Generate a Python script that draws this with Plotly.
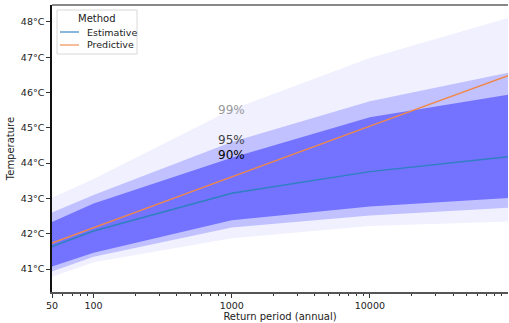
import math
import plotly.graph_objects as go

# ---- data ----
return_period = [50, 100, 1000, 10000, 100000]
estimative = [41.64, 42.08, 43.15, 43.76, 44.18]
predictive = [41.74, 42.17, 43.61, 45.05, 46.48]

ci90_lower = [41.07, 41.46, 42.38, 42.77, 43.01]
ci90_upper = [42.33, 42.86, 44.15, 45.30, 45.94]
ci95_lower = [40.93, 41.35, 42.18, 42.52, 42.74]
ci95_upper = [42.60, 43.10, 44.60, 45.75, 46.56]
ci99_lower = [40.78, 41.19, 41.87, 42.22, 42.35]
ci99_upper = [43.02, 43.55, 45.52, 46.98, 48.11]

y_ticks = [41, 42, 43, 44, 45, 46, 47, 48]
y_ticklabels = [f"{v}°C" for v in y_ticks]
x_ticks = [50, 100, 1000, 10000]
x_ticklabels = ["50", "100", "1000", "10000"]
x_minor = [60, 70, 80, 90, 200, 300, 400, 500, 600, 700, 800, 900,
           2000, 3000, 4000, 5000, 6000, 7000, 8000, 9000,
           20000, 30000, 40000, 50000, 60000, 70000, 80000, 90000]

band_labels = [("99%", 45.50, "#999999"), ("95%", 44.66, "#444444"), ("90%", 44.24, "#000000")]
label_x = 1000

legend_title = "Method"
legend_names = ["Estimative", "Predictive"]
legend_colors = ["rgba(47,127,193,0.75)", "rgba(240,136,74,0.75)"]

FONT = "DejaVu Sans"
W, H = 509, 323
ML, MR, MT, MB = 52, 1, 5, 31
PW, PH = W - ML - MR, H - MT - MB


def px(xp):
    return (xp - ML) / PW


def py(yp):
    return 1 - (yp - MT) / PH


fig = go.Figure()

bands = [
    (ci99_lower, ci99_upper, "rgb(240,240,255)"),
    (ci95_lower, ci95_upper, "rgb(193,193,255)"),
    (ci90_lower, ci90_upper, "rgb(115,115,255)"),
]
for lo, hi, col in bands:
    fig.add_trace(go.Scatter(
        x=return_period + return_period[::-1],
        y=hi + lo[::-1],
        fill="toself", fillcolor=col, mode="lines",
        line=dict(width=0, color=col), showlegend=False, hoverinfo="skip",
    ))

fig.add_trace(go.Scatter(x=return_period, y=estimative, mode="lines", name="Estimative",
                         line=dict(color="#2f7fc1", width=1.5), showlegend=False))
fig.add_trace(go.Scatter(x=return_period, y=predictive, mode="lines", name="Predictive",
                         line=dict(color="#f0884a", width=1.5), showlegend=False))

for txt, yv, col in band_labels:
    fig.add_annotation(x=math.log10(label_x), y=yv, xref="x", yref="y", text=txt, showarrow=False,
                       font=dict(family=FONT, size=12, color=col), xanchor="center", yanchor="middle")

# top frame line
fig.add_shape(type="line", xref="paper", yref="paper", x0=0, x1=1, y0=1, y1=1,
              line=dict(color="#888888", width=2))

# legend box (drawn manually, matplotlib style)
fig.add_shape(type="rect", xref="paper", yref="paper",
              x0=px(57), x1=px(137), y0=py(54), y1=py(10),
              line=dict(color="#d8d8d8", width=1), fillcolor="rgba(255,255,255,0.85)", layer="above")
fig.add_annotation(x=px(97), y=py(18.5), xref="paper", yref="paper", text=legend_title,
                   showarrow=False, font=dict(family=FONT, size=10, color="#222222"),
                   xanchor="center", yanchor="middle")
for i, (nm, col) in enumerate(zip(legend_names, legend_colors)):
    yy = 32 + i * 13
    fig.add_shape(type="line", xref="paper", yref="paper", x0=px(60), x1=px(79),
                  y0=py(yy), y1=py(yy), line=dict(color=col, width=1.5), layer="above")
    fig.add_annotation(x=px(85), y=py(yy), xref="paper", yref="paper", text=nm,
                       showarrow=False, font=dict(family=FONT, size=9.5, color="#222222"),
                       xanchor="left", yanchor="middle")

fig.update_layout(
    width=W, height=H,
    margin=dict(l=ML, r=MR, t=MT, b=MB, autoexpand=False),
    paper_bgcolor="white", plot_bgcolor="white",
    font=dict(family=FONT, size=9, color="#222222"),
    showlegend=False,
    xaxis=dict(
        type="log", range=[1.69897, 5.0], automargin=False,
        tickmode="array", tickvals=x_ticks, ticktext=x_ticklabels,
        ticks="outside", ticklen=4, tickcolor="#333333",
        showgrid=False, zeroline=False, showline=True, linecolor="#555555", linewidth=1.5,
        minor=dict(tickmode="array", tickvals=x_minor, ticks="outside", ticklen=2.5,
                   tickcolor="#333333", showgrid=False),
        title=dict(text="Return period (annual)", font=dict(family=FONT, size=10), standoff=3),
        tickfont=dict(family=FONT, size=9.5),
    ),
    yaxis=dict(
        range=[40.35, 48.48], automargin=False,
        tickmode="array", tickvals=y_ticks, ticktext=y_ticklabels,
        ticks="outside", ticklen=4, tickcolor="#333333",
        showgrid=False, zeroline=False, showline=True, linecolor="#111111", linewidth=1.5,
        title=dict(text="Temperature", font=dict(family=FONT, size=10), standoff=4),
        tickfont=dict(family=FONT, size=9.5),
    ),
)

fig.write_html("out.html", config={"displayModeBar": False},
               post_script="document.body.style.margin='0';document.body.style.overflow='hidden';")
